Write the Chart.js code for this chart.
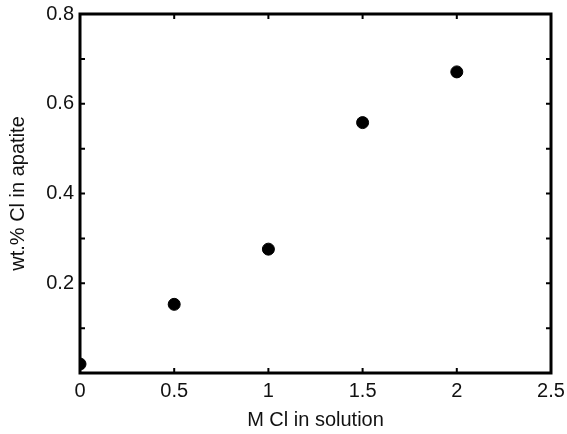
<!DOCTYPE html>
<html>
<head>
<meta charset="utf-8">
<script src="https://cdn.jsdelivr.net/npm/chart.js@4/dist/chart.umd.min.js"></script>
<style>
  html, body { margin: 0; padding: 0; background: #ffffff; }
  #wrap { width: 567px; height: 434px; }
</style>
</head>
<body>
<div id="wrap"><canvas id="c" width="567" height="434"></canvas></div>
<script>
// Data
const clInSolution = [0, 0.5, 1, 1.5, 2];            // M Cl in solution
const clInApatite  = [0.02, 0.153, 0.276, 0.558, 0.671]; // wt.% Cl in apatite
const xTickValues = [0, 0.5, 1, 1.5, 2, 2.5];
const yTickValues = [0.2, 0.4, 0.6, 0.8];
const yMinorValues = [0.1, 0.3, 0.5, 0.7];

const FONT = "'Liberation Sans', Arial, sans-serif";

const framePlugin = {
  id: 'frame',
  afterDraw(chart) {
    const { ctx, chartArea: a, scales } = chart;
    ctx.save();
    ctx.strokeStyle = '#000';
    ctx.lineWidth = 2;
    const L = 5;
    ctx.beginPath();
    xTickValues.forEach(v => {
      const px = scales.x.getPixelForValue(v);
      if (px <= a.left + 1 || px >= a.right - 1) return;
      ctx.moveTo(px, a.bottom); ctx.lineTo(px, a.bottom - L);
      ctx.moveTo(px, a.top); ctx.lineTo(px, a.top + L);
    });
    yTickValues.concat(yMinorValues).forEach(v => {
      const py = scales.y.getPixelForValue(v);
      if (py <= a.top + 1 || py >= a.bottom - 1) return;
      ctx.moveTo(a.left, py); ctx.lineTo(a.left + L, py);
      ctx.moveTo(a.right, py); ctx.lineTo(a.right - L, py);
    });
    ctx.stroke();
    ctx.lineWidth = 3;
    ctx.strokeRect(a.left, a.top, a.right - a.left, a.bottom - a.top);
    ctx.restore();
  }
};

new Chart(document.getElementById('c'), {
  type: 'scatter',
  data: {
    datasets: [{
      data: clInSolution.map((x, i) => ({ x: x, y: clInApatite[i] })),
      backgroundColor: '#000',
      borderColor: '#000',
      pointRadius: 6,
      pointHoverRadius: 6
    }]
  },
  options: {
    responsive: false,
    animation: false,
    events: [],
    layout: { padding: { top: 14, right: 16, left: 0, bottom: 0 } },
    plugins: { legend: { display: false }, tooltip: { enabled: false } },
    scales: {
      x: {
        type: 'linear',
        min: 0, max: 2.5,
        afterBuildTicks(scale) { scale.ticks = xTickValues.map(v => ({ value: v })); },
        afterFit(scale) {
          scale.height = 61;
          scale.paddingLeft = 0;
          scale.paddingRight = 0;
        },
        grid: { display: false, drawTicks: false },
        border: { display: false },
        ticks: {
          color: '#111',
          font: { family: FONT, size: 20 },
          padding: 6,
          maxRotation: 0,
          callback: v => String(v)
        },
        title: {
          display: true,
          text: 'M Cl in solution',
          color: '#111',
          font: { family: FONT, size: 20 },
          padding: { top: 0, bottom: 2 }
        }
      },
      y: {
        type: 'linear',
        min: 0, max: 0.8,
        afterBuildTicks(scale) { scale.ticks = yTickValues.map(v => ({ value: v })); },
        afterFit(scale) {
          scale.width = 80;
          scale.paddingTop = 0;
          scale.paddingBottom = 0;
        },
        grid: { display: false, drawTicks: false },
        border: { display: false },
        ticks: {
          color: '#111',
          font: { family: FONT, size: 20 },
          padding: 6,
          callback: v => String(v)
        },
        title: {
          display: true,
          text: 'wt.% Cl in apatite',
          color: '#111',
          font: { family: FONT, size: 20 },
          padding: { top: 6, bottom: 0 }
        }
      }
    }
  },
  plugins: [framePlugin]
});
</script>
</body>
</html>
